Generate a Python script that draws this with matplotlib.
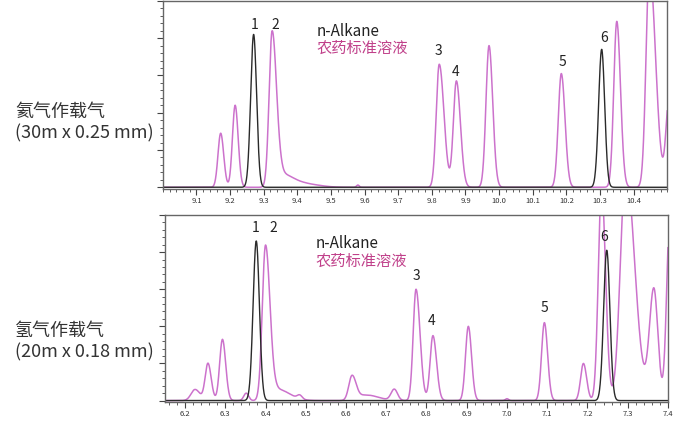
# Chromatogram comparison: helium vs hydrogen carrier gas
import numpy as np
import matplotlib.pyplot as plt
from matplotlib.ticker import MultipleLocator, NullFormatter

plt.rcParams['font.family'] = ['Noto Sans CJK SC', 'DejaVu Sans']

PINK = '#cc72cc'
PINK_TEXT = '#c0408a'
BLACK = '#2a2a2a'

# peak tables: retention time (min), height (% of axis), left width, right width
he_pest_rt = [9.172, 9.215, 9.325, 9.355, 9.43, 9.58, 9.822, 9.873, 9.970, 10.185, 10.350, 10.447, 10.505]
he_pest_h = [29, 44, 83, 7, 1.5, 1.2, 66, 57, 76, 61, 89, 118, 46]
he_pest_wl = [0.008, 0.008, 0.009, 0.015, 0.03, 0.004, 0.009, 0.009, 0.009, 0.009, 0.009, 0.010, 0.009]
he_pest_wr = [0.009, 0.009, 0.013, 0.035, 0.04, 0.004, 0.014, 0.012, 0.011, 0.011, 0.011, 0.018, 0.010]
he_alk_rt = [9.270, 10.305]
he_alk_h = [82, 74]
he_alk_w = [0.0088, 0.0090]

h2_pest_rt = [6.225, 6.257, 6.293, 6.352, 6.400, 6.43, 6.485, 6.615, 6.65, 6.720, 6.774,
              6.816, 6.904, 7.000, 7.093, 7.190, 7.235, 7.295, 7.365, 7.405]
h2_pest_h = [6, 20, 33, 4, 83, 6, 2, 13, 3, 6, 60, 35, 40, 1, 42, 20, 115, 125, 60, 100]
h2_pest_wl = [0.010, 0.007, 0.007, 0.006, 0.008, 0.015, 0.006, 0.008, 0.02, 0.008, 0.007,
              0.007, 0.007, 0.004, 0.007, 0.007, 0.008, 0.013, 0.011, 0.008]
h2_pest_wr = [0.012, 0.008, 0.008, 0.006, 0.011, 0.03, 0.006, 0.010, 0.03, 0.008, 0.010,
              0.009, 0.008, 0.004, 0.008, 0.008, 0.010, 0.022, 0.010, 0.008]
h2_alk_rt = [6.377, 7.248]
h2_alk_h = [86, 81]
h2_alk_w = [0.0078, 0.0078]

he_labels = [('1', 9.272, 87), ('2', 9.334, 87), ('3', 9.821, 73), ('4', 9.871, 62),
             ('5', 10.189, 67), ('6', 10.311, 80)]
h2_labels = [('1', 6.375, 93), ('2', 6.42, 93), ('3', 6.776, 67), ('4', 6.813, 43),
             ('5', 7.093, 50), ('6', 7.242, 88)]


def trace(x, rts, hs, wl, wr):
    y = np.zeros_like(x)
    for rt, h, a, b in zip(rts, hs, wl, wr):
        w = np.where(x < rt, a, b)
        y += h * np.exp(-0.5 * ((x - rt) / w) ** 2)
    return y


def style_axes(ax, xmin, xmax):
    ax.set_xlim(xmin, xmax)
    ax.set_ylim(-0.8, 100)
    for s in ax.spines.values():
        s.set_color('#666666')
        s.set_linewidth(1.0)
    ax.xaxis.set_major_locator(MultipleLocator(0.1))
    ax.xaxis.set_minor_locator(MultipleLocator(0.02))
    ax.yaxis.set_major_locator(MultipleLocator(20))
    ax.yaxis.set_minor_locator(MultipleLocator(4))
    ax.yaxis.set_major_formatter(NullFormatter())
    ax.tick_params(axis='both', which='major', length=4, width=0.8, color='#444444',
                   labelsize=5.5, labelcolor='#333333', pad=2)
    ax.tick_params(axis='both', which='minor', length=2, width=0.6, color='#444444')


fig = plt.figure(figsize=(6.9, 4.3), dpi=100)
ax1 = fig.add_axes([0.236, 0.561, 0.731, 0.437])
ax2 = fig.add_axes([0.239, 0.065, 0.729, 0.435])

x1 = np.linspace(9.0, 10.5, 3000)
ax1.plot(x1, trace(x1, he_pest_rt, he_pest_h, he_pest_wl, he_pest_wr), color=PINK, lw=1.1)
ax1.plot(x1, trace(x1, he_alk_rt, he_alk_h, he_alk_w, he_alk_w), color=BLACK, lw=1.0)
style_axes(ax1, 9.0, 10.5)
ax1.set_xticks(np.arange(9.1, 10.45, 0.1))
ax1.set_xticklabels(['%.1f' % v for v in np.arange(9.1, 10.45, 0.1)])

x2 = np.linspace(6.15, 7.4, 3000)
ax2.plot(x2, trace(x2, h2_pest_rt, h2_pest_h, h2_pest_wl, h2_pest_wr), color=PINK, lw=1.1)
ax2.plot(x2, trace(x2, h2_alk_rt, h2_alk_h, h2_alk_w, h2_alk_w), color=BLACK, lw=1.0)
style_axes(ax2, 6.15, 7.4)
ax2.set_xticks(np.arange(6.2, 7.45, 0.1))
ax2.set_xticklabels(['%.1f' % v for v in np.arange(6.2, 7.45, 0.1)])

for ax, labels in ((ax1, he_labels), (ax2, h2_labels)):
    for t, xx, yy in labels:
        ax.text(xx, yy, t, ha='center', va='center', fontsize=10, color='#222222')

ax1.text(0.305, 0.835, 'n-Alkane', transform=ax1.transAxes, fontsize=11, color='#222222', va='center')
ax1.text(0.305, 0.745, '农药标准溶液', transform=ax1.transAxes, fontsize=11, color=PINK_TEXT, va='center')
ax2.text(0.300, 0.845, 'n-Alkane', transform=ax2.transAxes, fontsize=11, color='#222222', va='center')
ax2.text(0.300, 0.75, '农药标准溶液', transform=ax2.transAxes, fontsize=11, color=PINK_TEXT, va='center')

fig.text(0.022, 1 - 112 / 430, '氦气作载气', fontsize=13, color='#333333', va='center')
fig.text(0.022, 1 - 133 / 430, '(30m x 0.25 mm)', fontsize=13, color='#333333', va='center')
fig.text(0.022, 1 - 331 / 430, '氢气作载气', fontsize=13, color='#333333', va='center')
fig.text(0.022, 1 - 352 / 430, '(20m x 0.18 mm)', fontsize=13, color='#333333', va='center')

fig.savefig('out.png', dpi=100)
